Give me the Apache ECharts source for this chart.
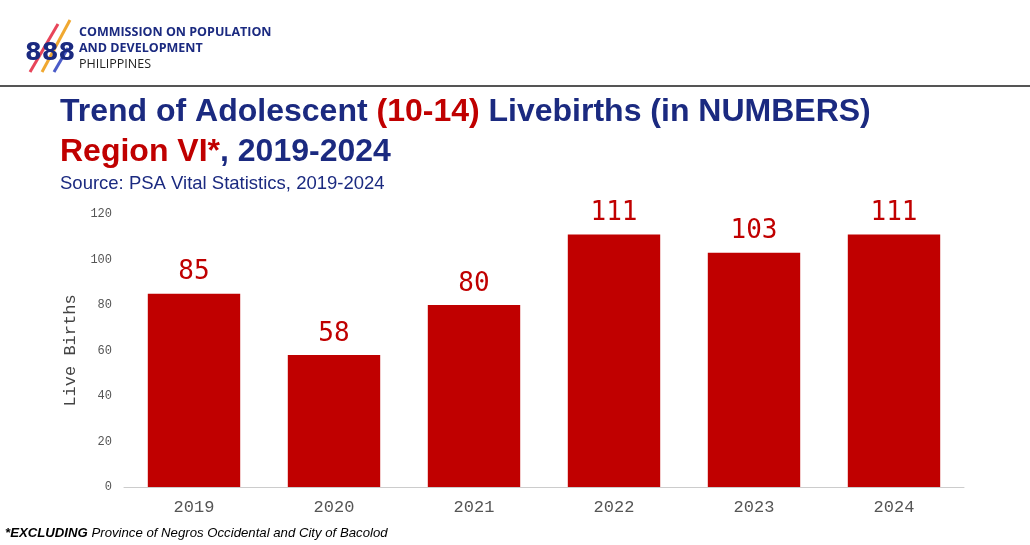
<!DOCTYPE html><html><head><meta charset="utf-8"><script src="https://cdn.jsdelivr.net/npm/echarts@6/dist/echarts.min.js"></script>
<style>body{margin:0;background:#fff}#c{width:1030px;height:545px}</style></head><body><div id="c"></div><script>
const years=['2019','2020','2021','2022','2023','2024'];
const births=[85,58,80,111,103,111];
const yTicks=[0,20,40,60,80,100,120];
const ch=echarts.init(document.getElementById('c'));
const navy='#1b2a80', red='#c00000';
ch.setOption({
 animation:false,
 graphic:[
  {type:'line',shape:{x1:0,y1:86,x2:1030,y2:86},style:{stroke:'#555',lineWidth:2}},
  {type:'line',shape:{x1:30,y1:72,x2:58,y2:24},style:{stroke:'#e8455a',lineWidth:3}},
  {type:'line',shape:{x1:42,y1:72,x2:70,y2:20},style:{stroke:'#f0a830',lineWidth:3}},
  {type:'line',shape:{x1:54,y1:72,x2:68,y2:48},style:{stroke:'#4a5bc8',lineWidth:3}},
  {type:'text',left:25,top:42,style:{text:'888',font:'bold 24px "DejaVu Sans"',fill:navy}},
  {type:'text',left:79,top:26,style:{text:'COMMISSION ON POPULATION',font:'bold 12.5px "Open Sans"',fill:navy}},
  {type:'text',left:79,top:42,style:{text:'AND DEVELOPMENT',font:'bold 12.5px "Open Sans"',fill:navy}},
  {type:'text',left:79,top:58,style:{text:'PHILIPPINES',font:'12.5px "Open Sans"',fill:'#222'}},
  {type:'text',left:60,top:96,style:{rich:{a:{font:'bold 32px "Liberation Sans"',fill:navy},b:{font:'bold 32px "Liberation Sans"',fill:red}},text:'{a|Trend of Adolescent }{b|(10-14)}{a| Livebirths (in NUMBERS)}'}},
  {type:'text',left:60,top:136,style:{rich:{a:{font:'bold 32px "Liberation Sans"',fill:navy},b:{font:'bold 32px "Liberation Sans"',fill:red}},text:'{b|Region VI*}{a|, 2019-2024}'}},
  {type:'text',left:60,top:174,style:{text:'Source: PSA Vital Statistics, 2019-2024',font:'18.5px "Liberation Sans"',fill:navy}},
  {type:'text',left:5,top:527,style:{rich:{a:{font:'bold italic 13.2px "Liberation Sans"',fill:'#000'},b:{font:'italic 13.2px "Liberation Sans"',fill:'#000'}},text:'{a|*EXCLUDING}{b| Province of Negros Occidental and City of Bacolod}'}}
 ],
 grid:{left:124,right:66,top:214,bottom:58},
 xAxis:{type:'category',data:years,axisTick:{show:false},axisLine:{lineStyle:{color:'#ccc'}},
  axisLabel:{color:'#555',fontSize:17,fontFamily:'Liberation Mono',margin:12}},
 yAxis:{type:'value',min:0,max:120,interval:20,splitLine:{show:false},
  name:'Live Births',nameLocation:'middle',nameGap:38,nameTextStyle:{fontFamily:'Liberation Mono',fontSize:17,color:'#444'},
  axisLabel:{color:'#555',fontFamily:'Liberation Mono',fontSize:12,margin:12}},
 series:[{type:'bar',data:births,barWidth:'66%',itemStyle:{color:red},
  label:{show:true,position:'top',distance:8,color:red,fontFamily:'DejaVu Sans Mono',fontSize:26}}]
});
</script></body></html>
